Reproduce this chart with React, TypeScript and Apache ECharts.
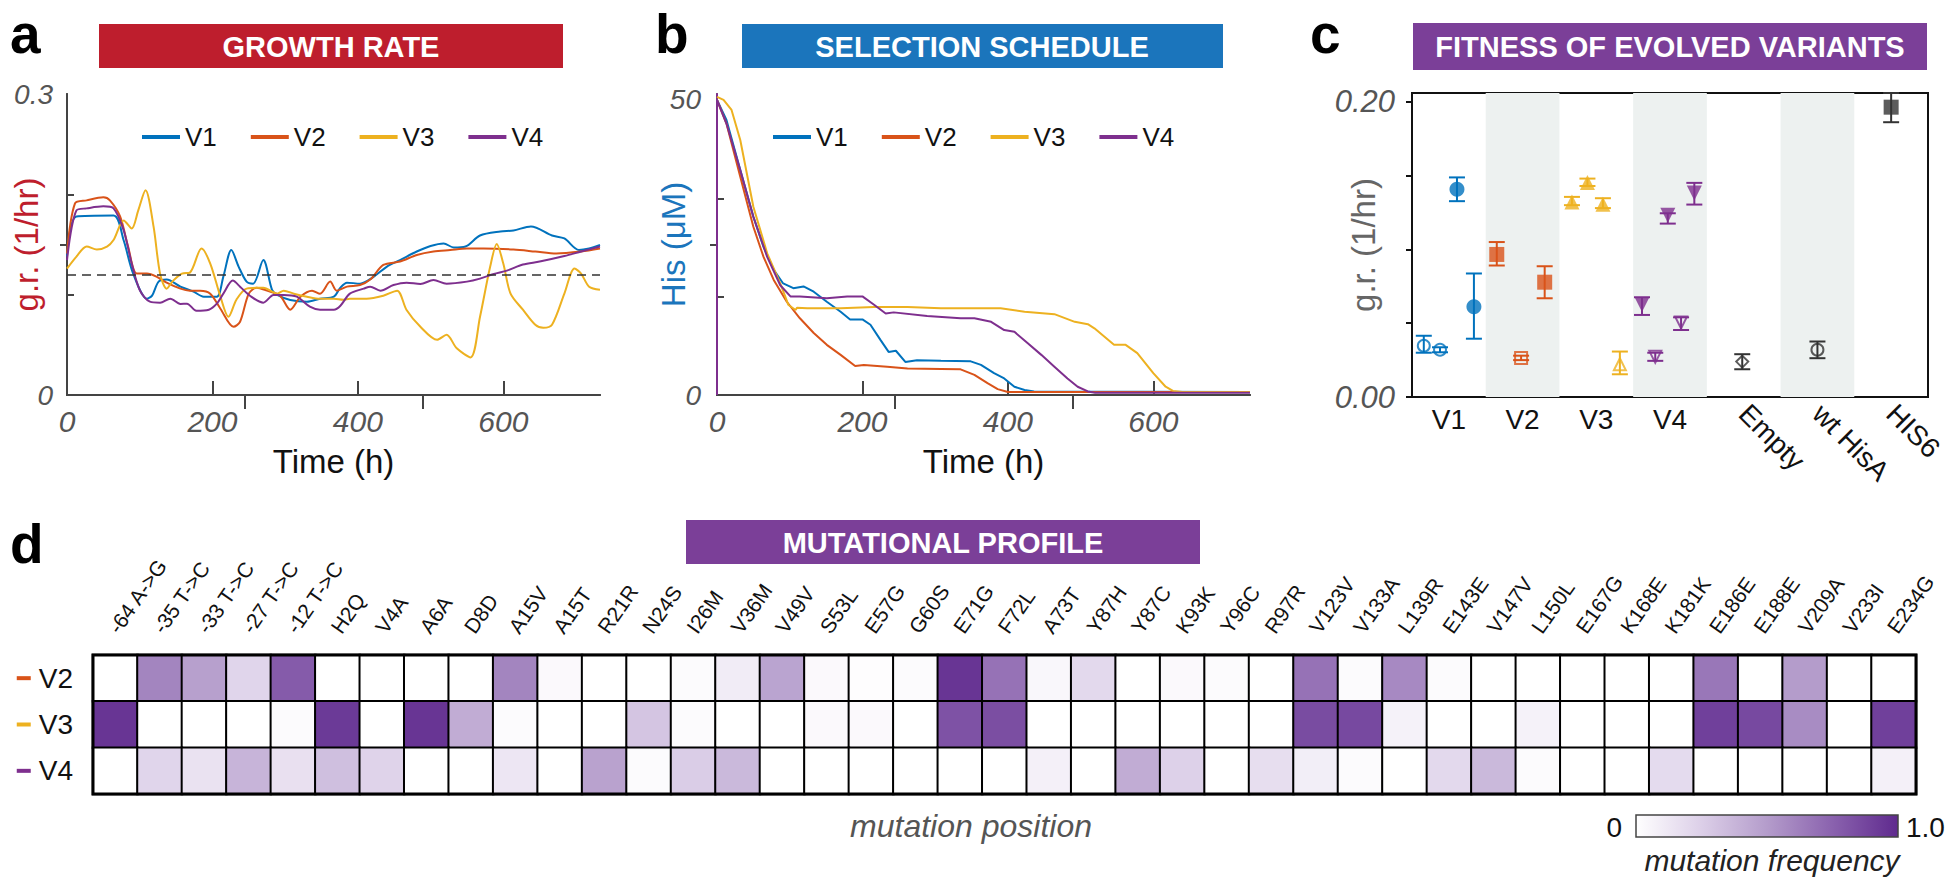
import React, { useEffect, useRef } from 'react';
import * as echarts from 'echarts';

const FONT = '"Liberation Sans", Arial, Helvetica, sans-serif';

const variantNames = ['V1', 'V2', 'V3', 'V4'];
const variantColors = ['#0072BD', '#D95319', '#EDB120', '#7E2F8E'];

const timeMax = 733;
const timeTicks = [0, 200, 400, 600];
const timeTopTicks = [244.3, 488.7];
const growthMax = 0.3;
const growthLabels = [0, 0.3];
const growthMinorTicks = [0.1, 0.2];
const growthRightTicks = [0.15];
const growthThreshold = 0.1166;
const hisMax = 51;
const hisLabels = [0, 50];
const hisMinorTicks = [16.67, 33.33];
const hisRightTicks = [25.5];

// panel a: growth rate, [time (h), g.r. (1/hr)]
const growthV1 = [[0,0.138],[13,0.178],[64,0.179],[78,0.154],[91,0.121],[110,0.096],[117,0.099],[126,0.113],[137,0.115],[156,0.108],[174,0.103],[188,0.098],[206,0.098],[215,0.118],[226,0.1445],[236,0.128],[247,0.113],[256,0.111],[270,0.1345],[282,0.1047],[289,0.0997],[307,0.0947],[330,0.093],[348,0.096],[367,0.098],[376,0.107],[385,0.112],[403,0.111],[422,0.118],[440,0.128],[458,0.1345],[481,0.143],[500,0.1485],[518,0.151],[532,0.147],[548,0.148],[568,0.159],[596,0.163],[614,0.164],[638,0.168],[667,0.159],[684,0.156],[704,0.1445],[718,0.146],[733,0.1495]];
const growthV2 = [[0,0.141],[11,0.191],[27,0.194],[50,0.197],[59,0.194],[73,0.178],[84,0.148],[96,0.121],[110,0.121],[123,0.118],[137,0.112],[156,0.106],[169,0.104],[183,0.104],[197,0.101],[211,0.086],[229,0.068],[238,0.073],[250,0.101],[261,0.107],[275,0.104],[293,0.099],[307,0.085],[321,0.098],[337,0.104],[348,0.101],[362,0.113],[371,0.104],[385,0.108],[403,0.1096],[417,0.115],[435,0.1296],[458,0.133],[481,0.1395],[504,0.143],[527,0.1445],[550,0.146],[573,0.146],[614,0.145],[644,0.143],[673,0.141],[707,0.143],[733,0.146]];
const growthV3 = [[0,0.126],[13,0.138],[27,0.148],[41,0.145],[55,0.148],[64,0.1545],[78,0.174],[89,0.166],[98,0.184],[108,0.204],[119,0.168],[128,0.121],[137,0.106],[146,0.114],[158,0.121],[169,0.122],[185,0.146],[197,0.131],[211,0.098],[222,0.078],[233,0.095],[247,0.106],[270,0.107],[289,0.101],[298,0.104],[312,0.101],[330,0.098],[348,0.096],[367,0.096],[380,0.095],[389,0.096],[412,0.096],[435,0.099],[454,0.104],[467,0.0847],[486,0.068],[509,0.055],[522,0.06],[536,0.0465],[555,0.0375],[568,0.078],[582,0.128],[591,0.1505],[600,0.131],[610,0.101],[627,0.085],[644,0.07],[655,0.067],[667,0.07],[684,0.101],[698,0.126],[707,0.121],[718,0.108],[733,0.105]];
const growthV4 = [[0,0.1345],[13,0.184],[27,0.186],[50,0.188],[64,0.186],[78,0.164],[89,0.131],[100,0.1047],[114,0.093],[128,0.092],[142,0.096],[156,0.0907],[165,0.091],[178,0.084],[195,0.085],[206,0.091],[215,0.101],[228,0.114],[238,0.108],[252,0.0987],[270,0.092],[284,0.0997],[298,0.0997],[316,0.098],[334,0.088],[348,0.085],[367,0.085],[376,0.089],[389,0.101],[408,0.106],[417,0.108],[431,0.104],[449,0.1096],[467,0.112],[486,0.1106],[504,0.1146],[522,0.111],[550,0.113],[568,0.116],[587,0.1206],[605,0.124],[627,0.13],[650,0.133],[684,0.1385],[707,0.143],[733,0.148]];

// panel b: histidine schedule, [time (h), His (uM)]
const hisV1 = [[0,50],[13,46.6],[32,38.1],[50,30.2],[64,25.1],[78,21.2],[91,18.9],[105,18.1],[119,18.4],[133,17.5],[151,15.8],[170,14.1],[183,12.8],[200,12.8],[211,11.9],[225,9.3],[236,7.3],[246,7.5],[259,5.6],[275,5.9],[308,5.8],[349,5.7],[363,5.1],[381,3.7],[395,2.8],[409,1.4],[423,0.85],[436,0.6],[733,0.5]];
const hisV2 = [[0,50],[13,46],[32,37],[50,28.5],[64,23.4],[78,19.5],[96,15.8],[114,13],[133,10.5],[151,8.5],[170,6.8],[190,4.9],[202,5.1],[234,4.8],[262,4.5],[308,4.4],[335,4.35],[354,3.4],[372,2.0],[386,1.0],[400,0.5],[733,0.5]];
const hisV3 = [[0,50.5],[9,50],[20,48.3],[32,43.2],[50,31.9],[69,24],[87,18.9],[98,15.3],[108,14.4],[110,14.8],[124,14.7],[170,14.7],[216,14.9],[262,14.9],[308,14.7],[354,14.7],[390,14.7],[423,14.1],[464,13.7],[492,12.4],[510,12.0],[519,11.3],[546,8.5],[562,8.5],[578,7.1],[600,3.7],[617,1.4],[627,0.7],[640,0.5],[733,0.5]];
const hisV4 = [[0,0],[0,50],[13,46],[32,38.1],[50,30.2],[69,23.4],[87,18.6],[101,16.7],[114,16.7],[151,16.4],[179,16.7],[200,16.7],[216,15.3],[232,13.8],[243,14.0],[289,13.4],[335,13],[354,13],[377,12.4],[395,11],[409,10.7],[427,8.8],[446,6.8],[464,4.8],[482,2.8],[496,1.4],[510,0.6],[520,0.4],[733,0.4]];

// panel c: fitness, [x within categories, g.r., low, high, open(1)/filled(0)]
const fitCategories = ['V1', 'V2', 'V3', 'V4', 'Empty', 'wt HisA', 'HIS6'];
const fitMax = 0.206;
const fitTicks = [0, 0.05, 0.1, 0.15, 0.2];
const fitLabels = [0, 0.2];
const fitBands = [[1, 2], [3, 4], [5, 6]];
const fitV1 = [[0.16,0.0347,0.030,0.0415,1],[0.38,0.032,0.0303,0.0337,1],[0.61,0.1408,0.1327,0.1488,0],[0.84,0.0612,0.0395,0.0837,0]];
const fitV2 = [[1.15,0.0966,0.0891,0.105,0],[1.48,0.0265,0.025,0.028,1],[1.8,0.0778,0.0669,0.0886,0]];
const fitV3 = [[2.17,0.1322,0.130,0.1356,0],[2.38,0.1454,0.143,0.148,0],[2.59,0.1306,0.128,0.1347,0],[2.82,0.0222,0.0154,0.0308,1]];
const fitV4 = [[3.12,0.0626,0.0556,0.0676,0],[3.3,0.0272,0.0245,0.030,1],[3.47,0.1231,0.1175,0.1245,0],[3.65,0.0505,0.0454,0.054,1],[3.83,0.1383,0.1304,0.1451,0]];
const fitEmpty = [[4.48,0.024,0.0188,0.029,1]];
const fitWtHisA = [[5.5,0.032,0.0263,0.0376,1]];
const fitHIS6 = [[6.5,0.1964,0.1862,0.206,0]];

// panel d: mutation frequencies
const mutationSites = ['-64 A->G','-35 T->C','-33 T->C','-27 T->C','-12 T->C','H2Q','V4A','A6A','D8D','A15V','A15T','R21R','N24S','I26M','V36M','V49V','S53L','E57G','G60S','E71G','F72L','A73T','Y87H','Y87C','K93K','Y96C','R97R','V123V','V133A','L139R','E143E','V147V','L150L','E167G','K168E','K181K','E186E','E188E','V209A','V233I','E234G'];
const mutationRows = ['V2', 'V3', 'V4'];
const mutationRowColors = ['#D95319', '#EDB120', '#7E2F8E'];
const mutV2 = [0,0.6,0.48,0.22,0.78,0,0,0,0,0.6,0.03,0,0,0.02,0.1,0.46,0.03,0.01,0.02,0.95,0.68,0.04,0.2,0,0.03,0.02,0,0.68,0.02,0.58,0.02,0,0,0,0,0,0.66,0,0.5,0,0];
const mutV3 = [0.95,0,0,0,0.02,0.93,0,0.95,0.42,0.02,0,0,0.3,0.02,0,0,0.03,0.03,0,0.82,0.84,0,0,0,0,0,0,0.85,0.86,0.07,0,0,0.07,0,0,0,0.9,0.86,0.57,0,0.9];
const mutV4 = [0,0.22,0.15,0.38,0.16,0.33,0.23,0,0,0.13,0,0.47,0.02,0.26,0.36,0,0,0,0,0,0,0.08,0,0.42,0.24,0,0.17,0.09,0.02,0,0.2,0.36,0.02,0,0,0.19,0,0,0,0,0.08];
const mutationScale = ['#FFFFFF', '#DCCFE8', '#B49CCB', '#8A62AE', '#5F2A8E'];
const mutationScaleLabels = ['0', '1.0'];

const AXIS_GRAY = '#444';
const TICK_LABEL = { fontFamily: FONT, fontStyle: 'italic' as const, color: '#555' };

function App() {
  const ref = useRef<HTMLDivElement>(null);
  useEffect(() => {
    if (!ref.current) return;
    const chart = echarts.init(ref.current, undefined, { renderer: 'svg' });

    const growthSets = [growthV1, growthV2, growthV3, growthV4];
    const hisSets = [hisV1, hisV2, hisV3, hisV4];

    const series: any[] = [];
    growthSets.forEach((d, i) => {
      series.push({
        type: 'line', name: variantNames[i], xAxisIndex: 0, yAxisIndex: 0,
        data: d, showSymbol: false, symbol: 'none', smooth: 0.3,
        lineStyle: { color: variantColors[i], width: 2 }, itemStyle: { color: variantColors[i] },
        z: 3,
        markLine: i === 0 ? {
          silent: true, symbol: 'none', label: { show: false },
          lineStyle: { color: '#333', type: [9, 6], width: 1.6 },
          data: [{ yAxis: growthThreshold }],
        } : undefined,
      });
    });
    hisSets.forEach((d, i) => {
      series.push({
        type: 'line', name: variantNames[i], xAxisIndex: 2, yAxisIndex: 2,
        data: d, showSymbol: false, symbol: 'none', smooth: false,
        lineStyle: { color: variantColors[i], width: 2 }, itemStyle: { color: variantColors[i] },
      });
    });

    const downTri = 'path://M0,0L10,0L5,9Z';
    const fitGroups: [number[][], string, string][] = [
      [fitV1, 'circle', '#0072BD'],
      [fitV2, 'rect', '#D95319'],
      [fitV3, 'triangle', '#EDB120'],
      [fitV4, downTri, '#7E2F8E'],
      [fitEmpty, 'diamond', '#333333'],
      [fitWtHisA, 'circle', '#333333'],
      [fitHIS6, 'rect', '#333333'],
    ];
    fitGroups.forEach(([arr, sym, color], gi) => {
      series.push({
        type: 'custom', xAxisIndex: 4, yAxisIndex: 4, silent: true, z: 3,
        data: arr.map((p) => [p[0], p[2], p[3]]),
        renderItem: (params: any, api: any) => {
          const x = api.value(0);
          const lo = api.coord([x, api.value(1)]);
          const hi = api.coord([x, api.value(2)]);
          const hw = 8;
          const style = { stroke: color, lineWidth: 2, fill: 'none' };
          return {
            type: 'group',
            children: [
              { type: 'line', shape: { x1: lo[0], y1: lo[1], x2: hi[0], y2: hi[1] }, style },
              { type: 'line', shape: { x1: lo[0] - hw, y1: lo[1], x2: lo[0] + hw, y2: lo[1] }, style },
              { type: 'line', shape: { x1: hi[0] - hw, y1: hi[1], x2: hi[0] + hw, y2: hi[1] }, style },
            ],
          };
        },
      });
      series.push({
        type: 'scatter', xAxisIndex: 4, yAxisIndex: 4, symbol: sym, z: 4,
        data: arr.map((p) => ({
          value: [p[0], p[1]],
          symbolSize: p[4] ? 12 : 15,
          itemStyle: p[4]
            ? { color: 'rgba(255,255,255,0)', borderColor: color, borderWidth: 2 }
            : { color, borderWidth: 0 },
        })),
        markArea: gi === 0 ? {
          silent: true,
          itemStyle: { color: '#EDF1F0' },
          data: fitBands.map((b) => [{ xAxis: b[0] }, { xAxis: b[1] }]),
        } : undefined,
      });
    });

    const heatData: number[][] = [];
    [mutV2, mutV3, mutV4].forEach((row, r) => {
      row.forEach((v, c) => heatData.push([c, r, v]));
    });
    const heatIndex = series.length;
    series.push({
      type: 'heatmap', xAxisIndex: 7, yAxisIndex: 5, data: heatData,
      itemStyle: { borderColor: '#000', borderWidth: 2 },
      emphasis: { disabled: true },
    });

    const rowRich: any = { t: { fontSize: 28, color: '#111', fontFamily: FONT, padding: [0, 0, 0, 8] } };
    mutationRowColors.forEach((c, i) => {
      rowRich['d' + i] = { width: 14, height: 4, backgroundColor: c };
    });

    const timeLabel = { ...TICK_LABEL, fontSize: 30, margin: 11, customValues: timeTicks, formatter: (v: number) => String(v) };
    const legendBase = {
      data: variantNames, top: 124, padding: 0, itemWidth: 38, itemHeight: 4, itemGap: 34, icon: 'rect',
      textStyle: { fontSize: 26, color: '#111', fontFamily: FONT }, selectedMode: false,
    };

    const gradient = new echarts.graphic.LinearGradient(0, 0, 1, 0,
      mutationScale.map((c, i) => ({ offset: i / (mutationScale.length - 1), color: c })));

    const baseGraphics: any[] = [
      { type: 'rect', shape: { x: 99, y: 24, width: 464, height: 44 }, style: { fill: '#BE1E2D' } },
      { type: 'text', x: 331, y: 47, style: { text: 'GROWTH RATE', fill: '#fff', font: `bold 29px ${FONT}`, align: 'center', verticalAlign: 'middle' } },
      { type: 'rect', shape: { x: 742, y: 24, width: 481, height: 44 }, style: { fill: '#1B75BC' } },
      { type: 'text', x: 982, y: 47, style: { text: 'SELECTION SCHEDULE', fill: '#fff', font: `bold 29px ${FONT}`, align: 'center', verticalAlign: 'middle' } },
      { type: 'rect', shape: { x: 1413, y: 23, width: 514, height: 47 }, style: { fill: '#7B3F98' } },
      { type: 'text', x: 1670, y: 47, style: { text: 'FITNESS OF EVOLVED VARIANTS', fill: '#fff', font: `bold 29px ${FONT}`, align: 'center', verticalAlign: 'middle' } },
      { type: 'rect', shape: { x: 686, y: 520, width: 514, height: 44 }, style: { fill: '#7B3F98' } },
      { type: 'text', x: 943, y: 543, style: { text: 'MUTATIONAL PROFILE', fill: '#fff', font: `bold 29px ${FONT}`, align: 'center', verticalAlign: 'middle' } },
      { type: 'text', x: 10, y: 34, style: { text: 'a', fill: '#000', font: `bold 55px ${FONT}`, align: 'left', verticalAlign: 'middle' } },
      { type: 'text', x: 655, y: 34, style: { text: 'b', fill: '#000', font: `bold 55px ${FONT}`, align: 'left', verticalAlign: 'middle' } },
      { type: 'text', x: 1310, y: 34, style: { text: 'c', fill: '#000', font: `bold 55px ${FONT}`, align: 'left', verticalAlign: 'middle' } },
      { type: 'text', x: 10, y: 544, style: { text: 'd', fill: '#000', font: `bold 55px ${FONT}`, align: 'left', verticalAlign: 'middle' } },
      { type: 'text', x: 971, y: 826, style: { text: 'mutation position', fill: '#555', font: `italic 32px ${FONT}`, align: 'center', verticalAlign: 'middle' } },
      { type: 'rect', z: 100, shape: { x: 1636, y: 815, width: 262, height: 22 }, style: { fill: gradient, stroke: '#444', lineWidth: 1.5 } },
      { type: 'text', x: 1622, y: 827, style: { text: mutationScaleLabels[0], fill: '#111', font: `28px ${FONT}`, align: 'right', verticalAlign: 'middle' } },
      { type: 'text', x: 1906, y: 827, style: { text: mutationScaleLabels[1], fill: '#111', font: `28px ${FONT}`, align: 'left', verticalAlign: 'middle' } },
      { type: 'text', x: 1772, y: 860, style: { text: 'mutation frequency', fill: '#222', font: `italic 30px ${FONT}`, align: 'center', verticalAlign: 'middle' } },
      { type: 'rect', z: 100, shape: { x: 93, y: 655, width: 1823, height: 139 }, style: { fill: 'none', stroke: '#000', lineWidth: 3 } },
    ];

    const option: any = {
      animation: false,
      textStyle: { fontFamily: FONT },
      grid: [
        { left: 67, top: 94, width: 533, height: 301, outerBoundsMode: 'none', containLabel: false },
        { left: 717, top: 94, width: 533, height: 301, outerBoundsMode: 'none', containLabel: false },
        { left: 1412, top: 93, width: 516, height: 304, outerBoundsMode: 'none', containLabel: false, show: true, borderColor: '#111', borderWidth: 2, backgroundColor: 'transparent' },
        { left: 93, top: 655, width: 1823, height: 139, outerBoundsMode: 'none', containLabel: false },
      ],
      legend: [
        { ...legendBase, left: 142 },
        { ...legendBase, left: 773 },
      ],
      xAxis: [
        {
          type: 'value', gridIndex: 0, min: 0, max: timeMax, position: 'bottom',
          name: 'Time (h)', nameLocation: 'middle', nameGap: 50, nameMoveOverlap: false,
          nameTextStyle: { fontSize: 33, color: '#111', fontFamily: FONT },
          axisLine: { lineStyle: { color: AXIS_GRAY, width: 2 } },
          axisTick: { inside: true, length: 14, customValues: [200, 400, 600], lineStyle: { color: AXIS_GRAY, width: 2 } },
          axisLabel: timeLabel, splitLine: { show: false },
        },
        {
          type: 'value', gridIndex: 0, min: 0, max: timeMax, position: 'top',
          axisLine: { lineStyle: { color: AXIS_GRAY, width: 2 } },
          axisTick: { inside: true, length: 14, customValues: timeTopTicks, lineStyle: { color: AXIS_GRAY, width: 2 } },
          axisLabel: { show: false }, splitLine: { show: false },
        },
        {
          type: 'value', gridIndex: 1, min: 0, max: timeMax, position: 'bottom',
          name: 'Time (h)', nameLocation: 'middle', nameGap: 50, nameMoveOverlap: false,
          nameTextStyle: { fontSize: 33, color: '#111', fontFamily: FONT },
          axisLine: { lineStyle: { color: AXIS_GRAY, width: 2 } },
          axisTick: { inside: true, length: 14, customValues: [200, 400, 600], lineStyle: { color: AXIS_GRAY, width: 2 } },
          axisLabel: timeLabel, splitLine: { show: false },
        },
        {
          type: 'value', gridIndex: 1, min: 0, max: timeMax, position: 'top',
          axisLine: { lineStyle: { color: AXIS_GRAY, width: 2 } },
          axisTick: { inside: true, length: 14, customValues: timeTopTicks, lineStyle: { color: AXIS_GRAY, width: 2 } },
          axisLabel: { show: false }, splitLine: { show: false },
        },
        {
          type: 'value', gridIndex: 2, min: 0, max: 7, show: false,
        },
        {
          type: 'category', gridIndex: 2, data: fitCategories, position: 'bottom',
          axisLine: { show: false }, axisTick: { show: false },
          axisLabel: {
            interval: 0, margin: 8, fontSize: 28, color: '#111', fontFamily: FONT,
            formatter: (v: string, i: number) => (i < 4 ? v : ''),
          },
        },
        {
          type: 'category', gridIndex: 2, data: fitCategories, position: 'bottom',
          axisLine: { show: false }, axisTick: { show: false },
          axisLabel: {
            interval: 0, margin: 12, rotate: -45, fontSize: 28, color: '#111', fontFamily: FONT,
            formatter: (v: string, i: number) => (i >= 4 ? v : ''),
          },
        },
        {
          type: 'category', gridIndex: 3, data: mutationSites, position: 'top',
          axisLine: { show: false }, axisTick: { show: false }, splitLine: { show: false },
          axisLabel: { show: false },
        },
      ],
      yAxis: [
        {
          type: 'value', gridIndex: 0, min: 0, max: growthMax, position: 'left',
          name: 'g.r. (1/hr)', nameLocation: 'middle', nameGap: 24, nameMoveOverlap: false,
          nameTextStyle: { fontSize: 33, color: '#BE1E2D', fontFamily: FONT },
          axisLine: { lineStyle: { color: AXIS_GRAY, width: 2 } },
          axisTick: { inside: true, length: 7, customValues: growthMinorTicks, lineStyle: { color: AXIS_GRAY, width: 2 } },
          axisLabel: { ...TICK_LABEL, fontSize: 28, margin: 14, customValues: growthLabels, formatter: (v: number) => (v === 0 ? '0' : v.toFixed(1)) },
          splitLine: { show: false },
        },
        {
          type: 'value', gridIndex: 0, min: 0, max: growthMax, position: 'right',
          axisLine: { lineStyle: { color: AXIS_GRAY, width: 2 } },
          axisTick: { inside: true, length: 7, customValues: growthRightTicks, lineStyle: { color: AXIS_GRAY, width: 2 } },
          axisLabel: { show: false }, splitLine: { show: false },
        },
        {
          type: 'value', gridIndex: 1, min: 0, max: hisMax, position: 'left',
          name: 'His (μM)', nameLocation: 'middle', nameGap: 27, nameMoveOverlap: false,
          nameTextStyle: { fontSize: 33, color: '#1B75BC', fontFamily: FONT },
          axisLine: { lineStyle: { color: AXIS_GRAY, width: 2 } },
          axisTick: { inside: true, length: 7, customValues: hisMinorTicks, lineStyle: { color: AXIS_GRAY, width: 2 } },
          axisLabel: { ...TICK_LABEL, fontSize: 28, margin: 16, customValues: hisLabels, formatter: (v: number) => String(v) },
          splitLine: { show: false },
        },
        {
          type: 'value', gridIndex: 1, min: 0, max: hisMax, position: 'right',
          axisLine: { lineStyle: { color: '#7E2F8E', width: 2 } },
          axisTick: { inside: true, length: 7, customValues: hisRightTicks, lineStyle: { color: AXIS_GRAY, width: 2 } },
          axisLabel: { show: false }, splitLine: { show: false },
        },
        {
          type: 'value', gridIndex: 2, min: 0, max: fitMax, position: 'left',
          name: 'g.r. (1/hr)', nameLocation: 'middle', nameGap: 32, nameMoveOverlap: false,
          nameTextStyle: { fontSize: 33, color: '#666', fontFamily: FONT },
          axisLine: { lineStyle: { color: '#111', width: 2 } },
          axisTick: { inside: false, length: 6, customValues: fitTicks, lineStyle: { color: '#111', width: 2 } },
          axisLabel: { ...TICK_LABEL, fontSize: 31, margin: 17, customValues: fitLabels, formatter: (v: number) => v.toFixed(2) },
          splitLine: { show: false },
        },
        {
          type: 'category', gridIndex: 3, data: mutationRows, inverse: true,
          axisLine: { show: false }, axisTick: { show: false }, splitLine: { show: false },
          axisLabel: {
            margin: 20,
            formatter: (v: string, i: number) => `{d${i}|}{t|${v}}`,
            rich: rowRich,
          },
        },
      ],
      visualMap: {
        type: 'continuous', seriesIndex: heatIndex, min: 0, max: 1, show: false,
        inRange: { color: mutationScale },
      },
      graphic: baseGraphics,
      series,
    };
    chart.setOption(option);

    // column labels of the heatmap, placed from the category axis scale
    const row0 = chart.convertToPixel({ yAxisIndex: 5 } as any, mutationRows[0]) as unknown as number;
    const row1 = chart.convertToPixel({ yAxisIndex: 5 } as any, mutationRows[1]) as unknown as number;
    const rowH = Math.abs(row1 - row0);
    const labelY = row0 - rowH / 2 - 24;
    const siteLabels = mutationSites.map((s, i) => {
      const px = chart.convertToPixel({ xAxisIndex: 7 } as any, i) as unknown as number;
      return {
        type: 'text', x: px - 2, y: labelY, rotation: (55 * Math.PI) / 180,
        style: { text: s, fill: '#111', font: `21px ${FONT}`, align: 'left', verticalAlign: 'middle' },
      };
    });
    chart.setOption({ graphic: [...baseGraphics, ...siteLabels] });

    return () => chart.dispose();
  }, []);
  return <div ref={ref} style={{ position: 'fixed', left: 0, top: 0, width: 1950, height: 886, background: '#fff' }} />;
}

export default App;
